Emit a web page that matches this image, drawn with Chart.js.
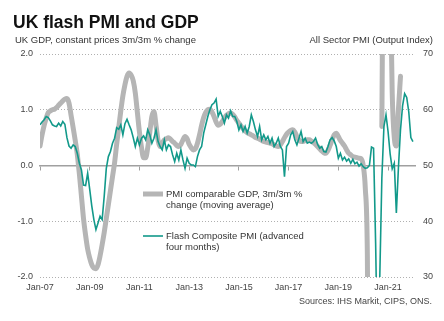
<!DOCTYPE html>
<html>
<head>
<meta charset="utf-8">
<script src="https://cdn.jsdelivr.net/npm/chart.js@4.4.0/dist/chart.umd.min.js"></script>
<style>
  body { margin: 0; background: #fff; }
  canvas { display: block; }
</style>
</head>
<body>
<canvas id="myChart" width="444" height="321"></canvas>
<script>
// monthly categories, Jan-07 .. Feb-22
const monthNames = ['Jan', 'Feb', 'Mar', 'Apr', 'May', 'Jun', 'Jul', 'Aug', 'Sep', 'Oct', 'Nov', 'Dec'];
const months = [];
for (let yr = 2007; yr <= 2022; yr++) {
    for (const mn of monthNames) {
        months.push(mn + '-' + String(yr).slice(2));
    }
}
months.length = 182;

// PMI comparable GDP, 3m/3m % change (moving average), left axis
const gdp = [
    0.35, 0.55, 0.72, 0.85, 0.95, 0.98, 1.00, 1.01, 1.04, 1.08, 1.12, 1.16,
    1.19, 1.20, 1.12, 0.90, 0.68, 0.45, 0.20, -0.15, -0.55, -0.95, -1.25, -1.50,
    -1.66, -1.78, -1.84, -1.85, -1.78, -1.62, -1.42, -1.20, -0.95, -0.70, -0.45, -0.20,
    0.05, 0.38, 0.68, 0.98, 1.25, 1.45, 1.60, 1.66, 1.62, 1.52, 1.30, 0.95,
    0.60, 0.32, 0.14, 0.14, 0.32, 0.60, 0.88, 0.97, 0.72, 0.45, 0.34, 0.40,
    0.46, 0.48, 0.50, 0.47, 0.43, 0.40, 0.36, 0.34, 0.38, 0.46, 0.52, 0.48,
    0.38, 0.32, 0.28, 0.30, 0.40, 0.55, 0.72, 0.86, 0.95, 1.00, 1.01, 0.96,
    0.88, 0.78, 0.72, 0.74, 0.79, 0.85, 0.90, 0.93, 0.94, 0.92, 0.87, 0.81,
    0.76, 0.71, 0.66, 0.62, 0.59, 0.57, 0.55, 0.53, 0.50, 0.49, 0.47, 0.45,
    0.43, 0.42, 0.41, 0.40, 0.39, 0.37, 0.35, 0.34, 0.37, 0.43, 0.50, 0.56,
    0.60, 0.63, 0.64, 0.60, 0.52, 0.46, 0.43, 0.43, 0.45, 0.46, 0.46, 0.44,
    0.41, 0.38, 0.34, 0.30, 0.26, 0.23, 0.22, 0.27, 0.36, 0.46, 0.55, 0.58,
    0.52, 0.45, 0.40, 0.35, 0.28, 0.22, 0.19, 0.16, 0.15, 0.14, 0.13, 0.12,
    0.00, -0.40, -1.60, -7.00, null, null, null, null, null, 0.70, 6.00, 9.00,
    7.00, 3.50, 1.30, 0.50, 0.35, 1.00, 1.60
];

// Flash Composite PMI, advanced four months, right axis
const pmi = [
    57.3, 57.8, 58.2, 58.8, 58.6, 58.0, 57.3, 57.1, 57.0, 57.6, 57.1, 57.9,
    57.4, 55.0, 53.5, 53.1, 53.7, 53.4, 52.2, 50.4, 49.2, 46.5, 46.4, 48.6,
    45.7, 42.7, 40.3, 38.5, 39.7, 40.9, 40.3, 44.5, 49.5, 51.6, 52.5, 54.0,
    54.9, 56.8, 56.5, 57.3, 55.5, 57.5, 58.3, 57.3, 56.4, 55.0, 53.4, 54.9,
    53.7, 54.9, 55.3, 54.6, 56.4, 55.5, 54.0, 54.9, 56.4, 54.3, 53.4, 52.8,
    54.6, 52.8, 53.7, 53.4, 51.9, 50.7, 52.2, 51.0, 52.8, 51.0, 49.5, 51.3,
    50.4, 50.1, 50.1, 49.8, 51.6, 52.8, 53.4, 55.8, 57.3, 58.8, 60.0, 60.9,
    61.2, 61.9, 58.8, 59.7, 58.8, 57.6, 59.1, 58.5, 59.8, 58.8, 58.8, 57.9,
    56.4, 57.3, 56.1, 57.0, 55.8, 57.0, 59.1, 57.9, 56.4, 55.2, 57.0, 54.6,
    55.5, 54.6, 55.2, 54.0, 54.9, 53.4, 54.0, 54.9, 53.4, 52.8, 48.0, 53.4,
    54.0, 55.5, 56.1, 54.6, 53.7, 54.9, 56.1, 54.3, 54.9, 54.0, 54.2, 54.0,
    54.3, 54.9, 53.8, 53.1, 53.4, 52.5, 52.4, 53.4, 54.6, 55.0, 54.4, 53.4,
    51.3, 52.2, 51.0, 51.5, 50.8, 51.2, 50.4, 51.1, 50.3, 50.6, 49.9, 50.3,
    49.8, 49.5, 49.6, 50.0, 53.3, 53.1, 36.0, 13.8, 30.0, 47.7, 57.0, 59.1,
    56.1, 52.1, 49.4, 50.4, 41.5, 49.6, 56.4, 60.7, 62.9, 62.2, 59.6, 55.0,
    54.3
];

const seriesNames = [
    ['PMI comparable GDP, 3m/3m %', 'change (moving average)'],
    ['Flash Composite PMI (advanced', 'four months)']
];

const GREY = '#b5b5b5';
const TEAL = '#12998a';
const FONT = "'Liberation Sans', Arial, sans-serif";

// only every other January gets a tick
function keepBiennialTicks(scale) {
    scale.ticks = scale.ticks.filter(t => t.value % 24 === 0);
}

// title, axis titles, source line and the legend block
const annotations = {
    id: 'annotations',
    afterDatasetsDraw(chart) {
        const ctx = chart.ctx;
        const area = chart.chartArea;
        ctx.save();
        ctx.textBaseline = 'alphabetic';
        ctx.fillStyle = '#111';
        ctx.font = 'bold 17.5px ' + FONT;
        ctx.fillText('UK flash PMI and GDP', 13, 28);

        ctx.textBaseline = 'middle';
        ctx.fillStyle = '#333';
        ctx.font = '9.5px ' + FONT;
        ctx.textAlign = 'left';
        ctx.fillText('UK GDP, constant prices 3m/3m % change', 15, 40);
        ctx.textAlign = 'right';
        ctx.fillText('All Sector PMI (Output Index)', 433, 40);

        ctx.font = "9px 'Liberation Sans Narrow', " + FONT;
        ctx.fillStyle = '#444';
        ctx.fillText('Sources: IHS Markit, CIPS, ONS.', 432, 302);

        // legend
        const lx = area.left + 103;
        const rows = [area.top + 140, area.top + 182];
        const styles = [[GREY, 5], [TEAL, 1.6]];
        ctx.textAlign = 'left';
        ctx.font = '9.5px ' + FONT;
        ctx.fillStyle = '#333';
        seriesNames.forEach((lines, i) => {
            ctx.strokeStyle = styles[i][0];
            ctx.lineWidth = styles[i][1];
            ctx.beginPath();
            ctx.moveTo(lx, rows[i]);
            ctx.lineTo(lx + 20, rows[i]);
            ctx.stroke();
            lines.forEach((txt, j) => ctx.fillText(txt, lx + 23, rows[i] + j * 11.5));
        });
        ctx.restore();
    }
};

new Chart(document.getElementById('myChart'), {
    type: 'line',
    data: {
        labels: months,
        datasets: [{
            label: seriesNames[0].join(' '),
            data: gdp,
            yAxisID: 'y',
            borderColor: GREY,
            borderWidth: 5,
            borderCapStyle: 'round',
            borderJoinStyle: 'round',
            cubicInterpolationMode: 'monotone',
            pointRadius: 0,
            clip: 0,
            order: 2
        }, {
            label: seriesNames[1].join(' '),
            data: pmi,
            yAxisID: 'y1',
            borderColor: TEAL,
            borderWidth: 1.6,
            tension: 0,
            pointRadius: 0,
            clip: 0,
            order: 1
        }]
    },
    options: {
        responsive: false,
        animation: false,
        devicePixelRatio: 1,
        layout: { padding: { top: 54, left: 0, right: 0, bottom: 0 } },
        plugins: {
            legend: { display: false },
            tooltip: { enabled: false }
        },
        scales: {
            x: {
                type: 'category',
                min: months[0],
                max: months[months.length - 1],
                afterBuildTicks: keepBiennialTicks,
                afterFit: s => { s.height = 44; },
                grid: { display: false, drawTicks: false },
                border: { display: false },
                ticks: {
                    autoSkip: false,
                    maxRotation: 0,
                    padding: 5,
                    color: '#444',
                    font: { family: FONT, size: 9 }
                }
            },
            // zero line with its tick marks
            xz: {
                type: 'category',
                position: { y: 0 },
                min: months[0],
                max: months[months.length - 1],
                afterBuildTicks: keepBiennialTicks,
                grid: { drawOnChartArea: false, drawTicks: true, tickLength: 4, color: '#a0a0a0', lineWidth: 1 },
                border: { display: true, color: '#a0a0a0', width: 1.5 },
                ticks: { display: false, autoSkip: false }
            },
            y: {
                position: 'left',
                min: -2,
                max: 2,
                afterFit: s => { s.width = 40; },
                ticks: {
                    stepSize: 1,
                    padding: 7,
                    color: '#444',
                    font: { family: FONT, size: 9 },
                    callback: v => v.toFixed(1)
                },
                grid: {
                    drawTicks: false,
                    color: c => c.tick.value === 0 ? 'rgba(0,0,0,0)' : '#b0b0b0',
                    lineWidth: 1
                },
                border: { display: false, dash: [1, 2] }
            },
            y1: {
                position: 'right',
                min: 30,
                max: 70,
                afterFit: s => { s.width = 29; },
                ticks: {
                    stepSize: 10,
                    padding: 8,
                    color: '#444',
                    font: { family: FONT, size: 9 }
                },
                grid: { drawOnChartArea: false, drawTicks: false },
                border: { display: false }
            }
        }
    },
    plugins: [annotations]
});
</script>
</body>
</html>
